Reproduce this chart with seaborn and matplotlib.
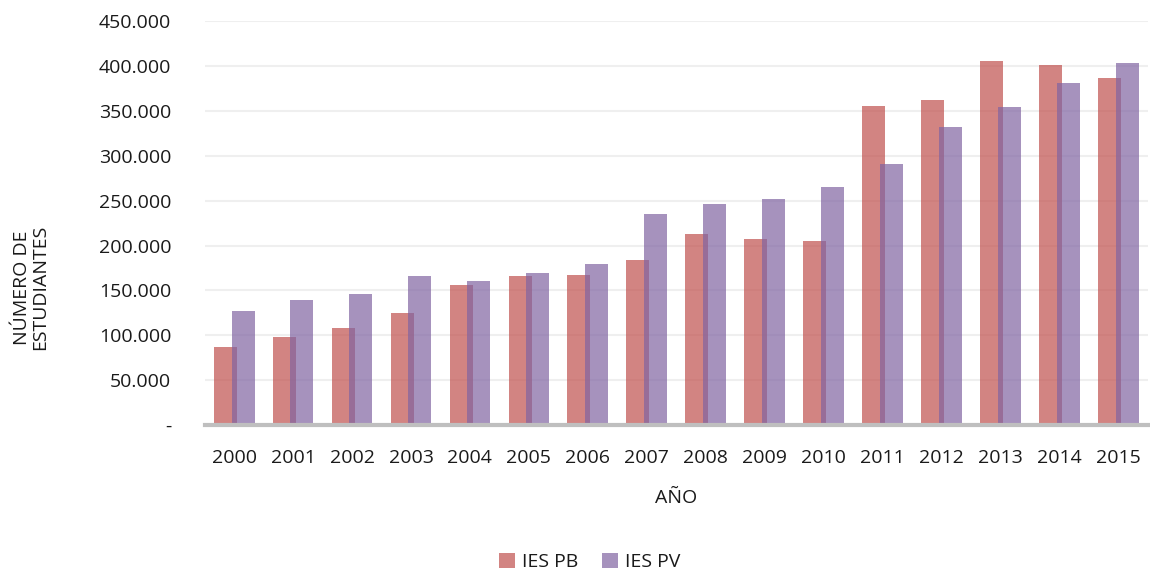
import pandas as pd
import matplotlib.pyplot as plt
import matplotlib.ticker as mticker
import seaborn as sns

# ===============================
# Data
# ===============================
years = [str(y) for y in range(2000, 2016)]
ies_pb = [87000, 97500, 108000, 124500, 156000, 165500, 167500, 183500,
          213000, 207000, 205500, 355500, 362500, 405500, 401000, 387000]
ies_pv = [126500, 139000, 145500, 166000, 161000, 169000, 179000, 235000,
          246000, 252000, 265500, 291000, 332000, 354000, 381000, 404000]
series = ["IES PB", "IES PV"]
colors = ["#c0504d", "#8064a2"]

df = pd.DataFrame({
    "Año": years * 2,
    "Estudiantes": ies_pb + ies_pv,
    "Serie": [series[0]] * len(years) + [series[1]] * len(years),
})

sns.set_style("white")
plt.rcParams["font.family"] = ["Open Sans", "DejaVu Sans"]
text_color = "#1a1a1a"

fig = plt.figure(figsize=(11.5, 5.75), dpi=100)
ax = fig.add_axes([0.178, 0.261, 0.82, 0.702])

sns.barplot(data=df, x="Año", y="Estudiantes", hue="Serie",
            palette=colors, saturation=1, width=0.6, gap=-0.3, alpha=0.7,
            linewidth=0, ax=ax, legend=False)

# ===============================
# Axes styling
# ===============================
ax.set_ylim(0, 450000)
ax.set_xlim(-0.5, len(years) - 0.5)
ax.yaxis.set_major_locator(mticker.MultipleLocator(50000))
ax.yaxis.set_major_formatter(mticker.FuncFormatter(
    lambda v, p: "-" if v == 0 else f"{int(v):,}".replace(",", ".")))
ax.grid(axis="y", color="#efefef", linewidth=1.5)
ax.set_axisbelow(True)
for s in ["top", "right", "left"]:
    ax.spines[s].set_visible(False)
ax.spines["bottom"].set_color("#bfbfbf")
ax.spines["bottom"].set_linewidth(3)
ax.tick_params(axis="both", length=0, labelsize=14, colors=text_color)
ax.tick_params(axis="x", pad=17)
ax.tick_params(axis="y", pad=24)

ax.set_xlabel("AÑO", fontsize=14, color=text_color, labelpad=16)
ax.set_ylabel("NÚMERO DE\nESTUDIANTES", fontsize=14, color=text_color,
              linespacing=1.0)
ax.yaxis.set_label_coords(-0.165, 0.34)

handles = [plt.Rectangle((0, 0), 1, 1, facecolor=c, alpha=0.7, linewidth=0)
           for c in colors]
fig.legend(handles, series, loc="center", bbox_to_anchor=(0.513, 0.023),
           ncol=2, frameon=False, fontsize=14, handlelength=0.8,
           handleheight=0.8, handletextpad=0.4, columnspacing=1.2,
           labelcolor=text_color)

fig.savefig("out.png", dpi=100)
